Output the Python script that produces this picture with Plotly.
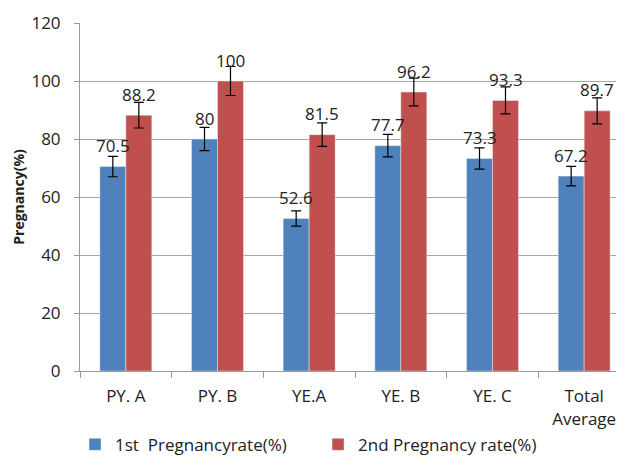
import plotly.graph_objects as go

categories = ["PY. A", "PY. B", "YE.A", "YE. B", "YE. C", "Total<br>Average"]
first_rate = [70.5, 80, 52.6, 77.7, 73.3, 67.2]
second_rate = [88.2, 100, 81.5, 96.2, 93.3, 89.7]
first_labels = ["70.5", "80", "52.6", "77.7", "73.3", "67.2"]
second_labels = ["88.2", "100", "81.5", "96.2", "93.3", "89.7"]
err_percent = 5
y_ticks = [0, 20, 40, 60, 80, 100, 120]

font = "Open Sans, Liberation Sans, sans-serif"
blue = "#4F81BD"
red = "#C0504D"

fig = go.Figure()
fig.add_trace(go.Bar(
    x=categories, y=first_rate, name="1st  Pregnancyrate(%)",
    marker=dict(color=blue),
    error_y=dict(type="percent", value=err_percent, color="black", thickness=1.2, width=5),
))
fig.add_trace(go.Bar(
    x=categories, y=second_rate, name="2nd Pregnancy rate(%)",
    marker=dict(color=red),
    error_y=dict(type="percent", value=err_percent, color="black", thickness=1.2, width=5),
))

ann = []
for c, v, t in zip(categories, first_rate, first_labels):
    ann.append(dict(x=c, y=v, text=t, showarrow=False, xshift=-13, yshift=21,
                    font=dict(family=font, size=17, color="#222")))
for c, v, t in zip(categories, second_rate, second_labels):
    ann.append(dict(x=c, y=v, text=t, showarrow=False, xshift=13, yshift=21,
                    font=dict(family=font, size=17, color="#222")))

fig.update_layout(
    width=624, height=457,
    margin=dict(l=72, r=2, t=15, b=94, autoexpand=False),
    paper_bgcolor="white", plot_bgcolor="white",
    barmode="group", bargap=0.433, bargroupgap=0,
    font=dict(family=font, size=17, color="#222"),
    annotations=ann,
    showlegend=True,
    legend=dict(orientation="h", x=-0.009, xanchor="left", y=-0.212, yanchor="middle",
                font=dict(family=font, size=17), itemwidth=30, entrywidth=198,
                tracegroupgap=0),
    xaxis=dict(type="category", showline=True, linecolor="#999", linewidth=1,
               ticks="outside", tickson="boundaries", ticklen=6, tickcolor="#999",
               tickfont=dict(family=font, size=17), automargin=False,
               ticklabelstandoff=10),
    yaxis=dict(range=[0, 120], tickvals=y_ticks, showgrid=True, gridcolor="#a6a6a6",
               showline=True, linecolor="#999", ticks="outside", ticklen=5, tickcolor="#999",
               tickfont=dict(family=font, size=17), automargin=False,
               ticklabelstandoff=10,
               title=dict(text="<b>Pregnancy(%)</b>", font=dict(family=font, size=14), standoff=3),
               zeroline=False),
)

fig.write_html("out.html")
